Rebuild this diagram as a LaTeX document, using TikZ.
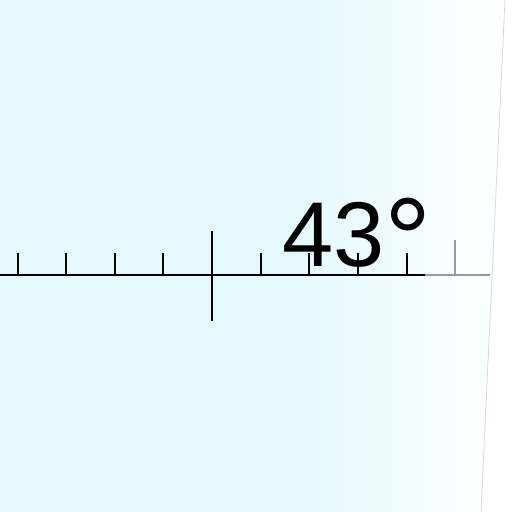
\documentclass[tikz,border=0pt]{standalone}
\usepackage{fontspec}
\setmainfont{Liberation Sans}
\definecolor{bgcyan}{HTML}{E4F9FE}
\definecolor{edgegray}{HTML}{D8D8D8}
\begin{document}
\begin{tikzpicture}[x=1pt,y=-1pt,
  tick/.style={line width=2.4pt,black},
  faint/.style={line width=1.8pt,gray!80},
  label/.style={font=\fontsize{92}{92}\selectfont,inner sep=0pt,anchor=base west}]
\useasboundingbox (0,0) rectangle (512,512);
\fill[white] (0,0) rectangle (512,512);
\fill[bgcyan] (0,0) -- (300,0) -- (300,512) -- (0,512) -- cycle;
\shade[left color=bgcyan,right color=white!96!bgcyan,shading angle=90] (300,0) -- (505,0) -- (481,512) -- (300,512) -- cycle;
\draw[edgegray,line width=0.8pt] (505,0) -- (481,512);
% axis
\coordinate (a0) at (0,275);
\coordinate (a1) at (425,275);
\coordinate (a2) at (490,275);
\draw[tick] (a0) -- (a1);
\draw[faint] (a1) -- (a2);
\foreach \x in {18,66,115,163,261,309,358,407} {
  \draw[tick] (\x,275) -- (\x,253);
}
\draw[faint] (455,275) -- (455,240);
\draw[line width=2.8pt] (212,231) -- (212,321);
\node[label] (t) at (282,266) {43\raisebox{-14pt}{\fontsize{118}{118}\selectfont °}};
\end{tikzpicture}
\end{document}
